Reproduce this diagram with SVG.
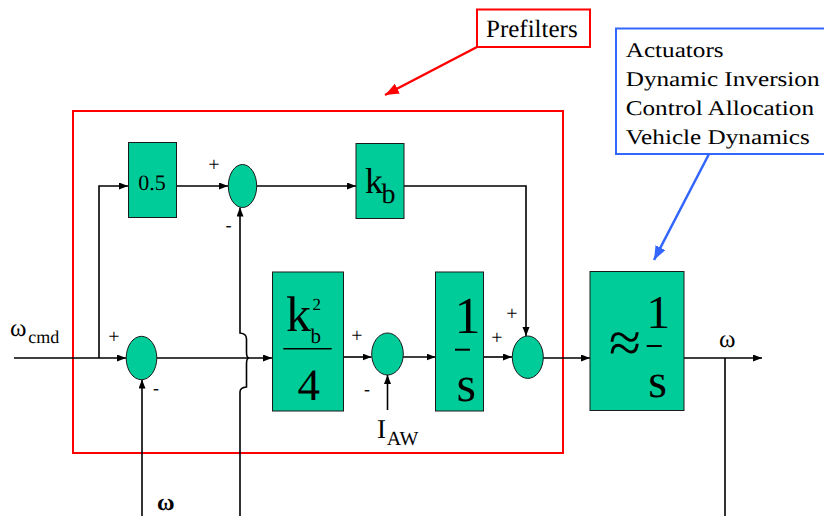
<svg xmlns="http://www.w3.org/2000/svg" width="824" height="516" viewBox="0 0 824 516" text-rendering="geometricPrecision">
<style>
.blk{fill:#00CC99;stroke:#1a1a1a;stroke-width:1}
.sum{fill:#00CC99;stroke:#1a1a1a;stroke-width:1}
.ln{fill:none;stroke:#000;stroke-width:1.6}
.t{font-family:"Liberation Serif","Times New Roman","DejaVu Serif",serif;fill:#000}
.pm{font-family:"Liberation Serif","Times New Roman","DejaVu Serif",serif;font-size:20px;fill:#000;text-anchor:middle}
.mn{font-family:"Liberation Serif","Times New Roman","DejaVu Serif",serif;font-size:18px;fill:#000;text-anchor:middle}
</style>
<defs>
<marker id="ah" markerUnits="userSpaceOnUse" markerWidth="10" markerHeight="8" refX="9" refY="3.5" orient="auto">
<path d="M0,0 L9,3.5 L0,7 z" fill="#000"/>
</marker>
<marker id="ahr" markerUnits="userSpaceOnUse" markerWidth="16" markerHeight="12" refX="14" refY="5.5" orient="auto">
<path d="M0,0 L14,5.5 L0,11 z" fill="#FF0000"/>
</marker>
<marker id="ahb" markerUnits="userSpaceOnUse" markerWidth="16" markerHeight="12" refX="14" refY="5.5" orient="auto">
<path d="M0,0 L14,5.5 L0,11 z" fill="#3366FF"/>
</marker>
</defs>
<rect width="824" height="516" fill="#fff"/>

<g id="prefilter-frame">
<rect x="73" y="111" width="490" height="342" fill="none" stroke="#FF0000" stroke-width="2"/>
</g>

<g id="connectors">
<path class="ln" d="M14,358 H126" marker-end="url(#ah)"/>
<path class="ln" d="M99,358 V186 H128" marker-end="url(#ah)"/>
<path class="ln" d="M177,186 H228" marker-end="url(#ah)"/>
<path class="ln" d="M257,186 H356" marker-end="url(#ah)"/>
<path class="ln" d="M404,186 H526 V336" marker-end="url(#ah)"/>
<path class="ln" d="M157,358 H272" marker-end="url(#ah)"/>
<path class="ln" d="M343,357 H371.5" marker-end="url(#ah)"/>
<path class="ln" d="M403,357 H435.5" marker-end="url(#ah)"/>
<path class="ln" d="M483.5,357 H512" marker-end="url(#ah)"/>
<path class="ln" d="M543,358 H590" marker-end="url(#ah)"/>
<path class="ln" d="M684,358 H762" marker-end="url(#ah)"/>
<path class="ln" d="M725,358 V516"/>
<path class="ln" d="M142,516 V379.5" marker-end="url(#ah)"/>
<path class="ln" d="M240,516 V392 Q240,387.5 246.5,387 V364 Q246.5,358 249,358 Q246.5,358 246.5,352 V339 Q246.5,333.5 240,333 V207.5" marker-end="url(#ah)"/>
<path class="ln" d="M387.5,410 V375" marker-end="url(#ah)"/>
</g>

<g id="gain-05">
<rect class="blk" x="128.5" y="142.5" width="48" height="75"/>
<text class="t" x="152" y="190" font-size="22" text-anchor="middle">0.5</text>
</g>
<g id="sum1">
<ellipse class="sum" cx="242.5" cy="186" rx="14.2" ry="21.5"/>
<text class="pm" x="214" y="170.5">+</text>
<text class="mn" x="228.5" y="231">-</text>
</g>
<g id="gain-kb">
<rect class="blk" x="356" y="143.5" width="48" height="75"/>
<text class="t" x="365" y="193.3" font-size="36">k</text>
<text class="t" x="381.5" y="202.7" font-size="28">b</text>
</g>
<g id="sum2">
<ellipse class="sum" cx="141.5" cy="358" rx="15.3" ry="21.7"/>
<text class="pm" x="114" y="342.5">+</text>
<text class="mn" x="156" y="394">-</text>
</g>
<g id="gain-kb2-4">
<rect class="blk" x="272.5" y="272" width="71" height="139"/>
<text class="t" x="286" y="331.3" font-size="50">k</text>
<text class="t" x="310.5" y="343" font-size="21">b</text>
<text class="t" x="312.5" y="309.7" font-size="17">2</text>
<line x1="283.3" y1="348.7" x2="331.7" y2="348.7" stroke="#000" stroke-width="1.6"/>
<text class="t" x="308.8" y="399.7" font-size="45" text-anchor="middle">4</text>
</g>
<g id="sum3">
<ellipse class="sum" cx="387.5" cy="354" rx="15.8" ry="21"/>
<text class="pm" x="357" y="341.5">+</text>
<text class="mn" x="367" y="395">-</text>
</g>
<g id="integrator">
<rect class="blk" x="435.5" y="272" width="48" height="139"/>
<text class="t" x="467.5" y="333" font-size="52" text-anchor="middle">1</text>
<line x1="455" y1="349.7" x2="470" y2="349.7" stroke="#000" stroke-width="2"/>
<text class="t" x="466.3" y="400.7" font-size="50" text-anchor="middle">s</text>
</g>
<g id="sum4">
<ellipse class="sum" cx="527.8" cy="357.2" rx="15.5" ry="21.2"/>
<text class="pm" x="497" y="343.5">+</text>
<text class="pm" x="512" y="319.5">+</text>
</g>
<g id="plant">
<rect class="blk" x="590" y="271.5" width="94" height="139"/>
<text class="t" x="609" y="362" font-size="58">≈</text>
<text class="t" x="658.3" y="328.3" font-size="47" text-anchor="middle">1</text>
<line x1="646.7" y1="346" x2="661.7" y2="346" stroke="#000" stroke-width="2"/>
<text class="t" x="657.5" y="396.7" font-size="48" text-anchor="middle">s</text>
</g>

<g id="labels">
<text class="t" x="10" y="335.5" font-size="25">ω</text>
<text class="t" x="28.3" y="343.3" font-size="18">cmd</text>
<text class="t" x="719" y="346.7" font-size="25">ω</text>
<text class="t" x="157" y="510" font-size="24" font-weight="bold">ω</text>
<text class="t" x="377" y="438" font-size="27">I</text>
<text class="t" x="386.7" y="444.7" font-size="20">AW</text>
</g>

<g id="prefilters-note">
<rect x="477" y="9.5" width="113" height="37.5" fill="#fff" stroke="#FF0000" stroke-width="2"/>
<text class="t" x="486" y="36.7" font-size="25">Prefilters</text>
<path d="M477,47 L385,95" fill="none" stroke="#FF0000" stroke-width="2.5" marker-end="url(#ahr)"/>
</g>

<g id="plant-note">
<rect x="616" y="28.5" width="220" height="125.5" fill="#fff" stroke="#3366FF" stroke-width="2"/>
<g transform="translate(625.7,0) scale(1.2,1)">
<text class="t" x="0" y="56.7" font-size="21">Actuators</text>
<text class="t" x="0" y="86" font-size="21">Dynamic Inversion</text>
<text class="t" x="0" y="115" font-size="21">Control Allocation</text>
<text class="t" x="0" y="144" font-size="21">Vehicle Dynamics</text>
</g>
<path d="M709,154 L654,260" fill="none" stroke="#3366FF" stroke-width="2.5" marker-end="url(#ahb)"/>
</g>
</svg>
